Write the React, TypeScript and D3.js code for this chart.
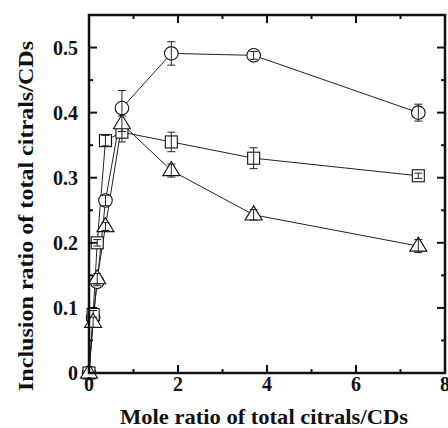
import React from "react";
import * as d3 from "d3";

const xValues = [0, 0.0925, 0.185, 0.37, 0.74, 1.85, 3.7, 7.4];
const circleY = [0, 0.085, 0.14, 0.265, 0.407, 0.491, 0.488, 0.4];
const circleErr = [0, 0.006, 0.006, 0.008, 0.027, 0.018, 0.006, 0.013];
const squareY = [0, 0.09, 0.2, 0.357, 0.37, 0.355, 0.33, 0.303];
const squareErr = [0, 0.006, 0.005, 0.008, 0.015, 0.015, 0.016, 0.004];
const triangleY = [0, 0.078, 0.145, 0.225, 0.383, 0.311, 0.243, 0.195];
const triangleErr = [0, 0.008, 0.008, 0.006, 0.012, 0.01, 0.008, 0.01];
const xTicks = [0, 2, 4, 6, 8];
const xMinor = [1, 3, 5, 7];
const yTicks = [0, 0.1, 0.2, 0.3, 0.4, 0.5];
const yMinor = [0.05, 0.15, 0.25, 0.35, 0.45];
const yLabels = ["0", "0.1", "0.2", "0.3", "0.4", "0.5"];

const W = 448, H = 428;
const L = 89, R = 445, T = 15, B = 373;
const FONT = "'Liberation Serif', 'Times New Roman', serif";

export default function App() {
  const x = d3.scaleLinear().domain([0, 8]).range([L, R]);
  const y = d3.scaleLinear().domain([0, 0.55]).range([B, T]);
  const line = d3.line<number>().x((_, i) => x(xValues[i])).y((v) => y(v));

  const series = [
    { key: "c", ys: circleY, err: circleErr, shape: "circle" },
    { key: "s", ys: squareY, err: squareErr, shape: "square" },
    { key: "t", ys: triangleY, err: triangleErr, shape: "triangle" },
  ];

  const marker = (shape: string, cx: number, cy: number, k: string) => {
    if (shape === "circle") return <circle key={k} cx={cx} cy={cy} r={6.8} fill="white" stroke="#111" strokeWidth={1.1} />;
    if (shape === "square") return <rect key={k} x={cx - 6} y={cy - 6} width={12} height={12} fill="white" stroke="#111" strokeWidth={1.1} />;
    const s = 8.5;
    const p = `M${cx},${cy - s * 1.05} L${cx + s},${cy + s * 0.6} L${cx - s},${cy + s * 0.6} Z`;
    return <path key={k} d={p} fill="white" stroke="#111" strokeWidth={1.1} />;
  };

  return (
    <svg width={W} height={H} style={{ position: "absolute", left: 0, top: 0, background: "white" }}>
      {series.map((s) => (
        <path key={"l" + s.key} d={line(s.ys) || ""} fill="none" stroke="#222" strokeWidth={1} />
      ))}
      {series.map((s) =>
        s.ys.map((v, i) => {
          const cx = x(xValues[i]);
          const cy = y(v);
          const e = s.err[i];
          return (
            <g key={s.key + i}>
              {marker(s.shape, cx, cy, "m")}
              {e > 0 && (
                <g stroke="#222" strokeWidth={1}>
                  <line x1={cx} x2={cx} y1={y(v + e)} y2={y(v - e)} />
                  <line x1={cx - 4} x2={cx + 4} y1={y(v + e)} y2={y(v + e)} />
                  <line x1={cx - 4} x2={cx + 4} y1={y(v - e)} y2={y(v - e)} />
                </g>
              )}
            </g>
          );
        })
      )}
      <rect x={L} y={T} width={R - L} height={B - T} fill="none" stroke="#111" strokeWidth={2.5} />
      <g stroke="#111" strokeWidth={2}>
        {xTicks.map((t) => (
          <g key={"xt" + t}>
            <line x1={x(t)} x2={x(t)} y1={B} y2={B - 8} />
            <line x1={x(t)} x2={x(t)} y1={T} y2={T + 8} />
          </g>
        ))}
        {xMinor.map((t) => (
          <g key={"xm" + t}>
            <line x1={x(t)} x2={x(t)} y1={B} y2={B - 4} />
            <line x1={x(t)} x2={x(t)} y1={T} y2={T + 4} />
          </g>
        ))}
        {yTicks.map((t) => (
          <g key={"yt" + t}>
            <line x1={L} x2={L + 8} y1={y(t)} y2={y(t)} />
            <line x1={R} x2={R - 8} y1={y(t)} y2={y(t)} />
          </g>
        ))}
        {yMinor.map((t) => (
          <g key={"ym" + t}>
            <line x1={L} x2={L + 4} y1={y(t)} y2={y(t)} />
            <line x1={R} x2={R - 4} y1={y(t)} y2={y(t)} />
          </g>
        ))}
      </g>
      <g fontFamily={FONT} fontWeight="bold" fontSize={20} fill="#111">
        {xTicks.map((t) => (
          <text key={"xl" + t} x={x(t)} y={B + 18} textAnchor="middle">{t}</text>
        ))}
        {yTicks.map((t, i) => (
          <text key={"yl" + t} x={L - 11} y={y(t) + 7} textAnchor="end">{yLabels[i]}</text>
        ))}
      </g>
      <text x={264} y={424} textAnchor="middle" fontFamily={FONT} fontWeight="bold" fontSize={21} fill="#111"
        textLength={288} lengthAdjust="spacingAndGlyphs">
        Mole ratio of total citrals/CDs
      </text>
      <text transform={`translate(33,216) rotate(-90)`} textAnchor="middle" fontFamily={FONT} fontWeight="bold" fontSize={21} fill="#111"
        textLength={350} lengthAdjust="spacingAndGlyphs">
        Inclusion ratio of total citrals/CDs
      </text>
    </svg>
  );
}
